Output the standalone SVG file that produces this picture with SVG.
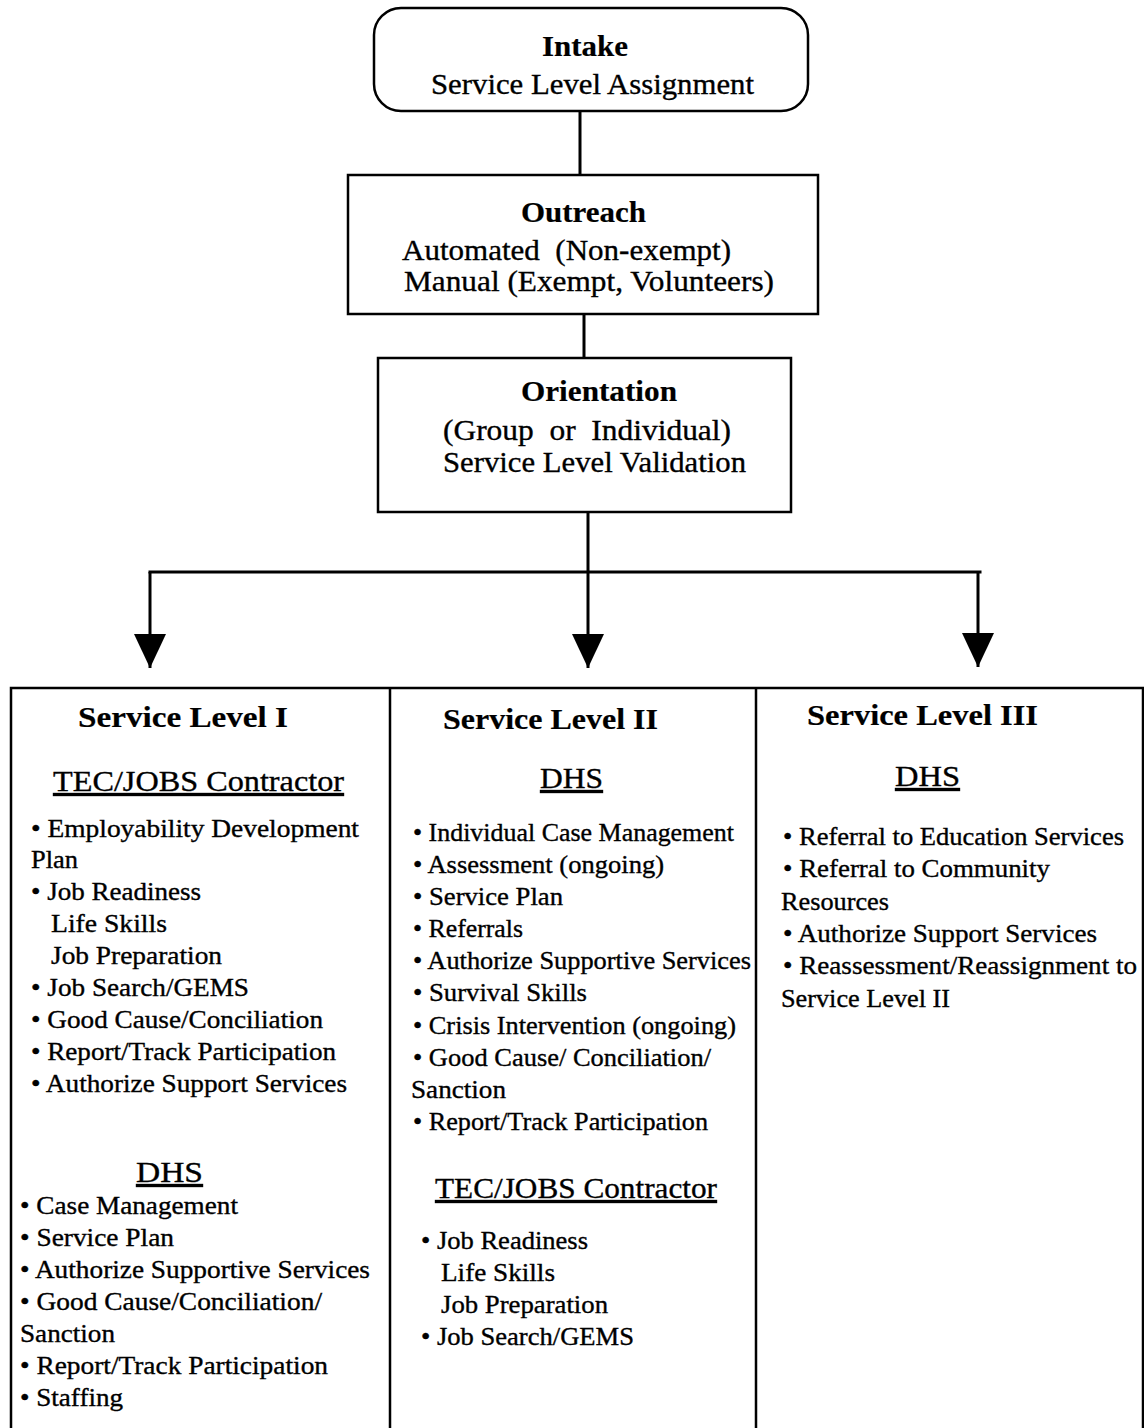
<svg xmlns="http://www.w3.org/2000/svg" width="1144" height="1428" viewBox="0 0 1144 1428">
<style>
text{font-family:"Liberation Serif","Times New Roman",serif;fill:#000;stroke:#000;stroke-width:0.35;white-space:pre}
.h{font-weight:bold;font-size:30px;stroke-width:0.2}
.t{font-size:30px}
.u{font-size:30px;text-decoration:underline}
.b{font-size:25px}
.box{fill:#fff;stroke:#000;stroke-width:2.5}
.con{fill:none;stroke:#000;stroke-width:3}
</style>
<defs>
<marker id="ah" markerUnits="userSpaceOnUse" markerWidth="36" markerHeight="34" refX="34" refY="16" orient="auto">
<path d="M0,0 L34,16 L0,32 z" fill="#000"/>
</marker>
</defs>
<rect width="1144" height="1428" fill="#fff"/>
<g id="connectors">
<path class="con" d="M580 112 V175"/>
<path class="con" d="M584 314 V358"/>
<path class="con" d="M150 572 H980" stroke-linecap="square"/>
<path class="con" d="M588 512 V668" marker-end="url(#ah)"/>
<path class="con" d="M150 572 V668" marker-end="url(#ah)"/>
<path class="con" d="M978 572 V667" marker-end="url(#ah)"/>
</g>
<g id="intake">
<rect class="box" x="374" y="8" width="434" height="103" rx="27"/>
<text class="h" x="542" y="56" textLength="86" lengthAdjust="spacingAndGlyphs">Intake</text>
<text class="t" x="431" y="94" textLength="323" lengthAdjust="spacingAndGlyphs">Service Level Assignment</text>
</g>
<g id="outreach">
<rect class="box" x="348" y="175" width="470" height="139"/>
<text class="h" x="521" y="222" textLength="125" lengthAdjust="spacingAndGlyphs">Outreach</text>
<text class="t" x="402" y="260" textLength="329" lengthAdjust="spacingAndGlyphs">Automated  (Non-exempt)</text>
<text class="t" x="404" y="291" textLength="370" lengthAdjust="spacingAndGlyphs">Manual (Exempt, Volunteers)</text>
</g>
<g id="orientation">
<rect class="box" x="378" y="358" width="413" height="154"/>
<text class="h" x="521" y="401" textLength="156" lengthAdjust="spacingAndGlyphs">Orientation</text>
<text class="t" x="443" y="440" textLength="288" lengthAdjust="spacingAndGlyphs">(Group  or  Individual)</text>
<text class="t" x="443" y="472" textLength="303" lengthAdjust="spacingAndGlyphs">Service Level Validation</text>
</g>
<g id="levels-frame">
<rect class="box" x="11" y="688" width="1132" height="800"/>
<path class="box" d="M390 688 V1440 M756 688 V1440" fill="none"/>
</g>
<g id="level1">
<text class="h" x="78" y="727" textLength="210" lengthAdjust="spacingAndGlyphs">Service Level I</text>
<text class="u" x="53" y="791" textLength="291" lengthAdjust="spacingAndGlyphs">TEC/JOBS Contractor</text>
<text class="b" x="31" y="837" textLength="328" lengthAdjust="spacingAndGlyphs">• Employability Development</text>
<text class="b" x="31" y="868" textLength="47" lengthAdjust="spacingAndGlyphs">Plan</text>
<text class="b" x="31" y="900" textLength="170" lengthAdjust="spacingAndGlyphs">• Job Readiness</text>
<text class="b" x="51" y="932" textLength="116" lengthAdjust="spacingAndGlyphs">Life Skills</text>
<text class="b" x="51" y="964" textLength="171" lengthAdjust="spacingAndGlyphs">Job Preparation</text>
<text class="b" x="31" y="996" textLength="218" lengthAdjust="spacingAndGlyphs">• Job Search/GEMS</text>
<text class="b" x="31" y="1028" textLength="292" lengthAdjust="spacingAndGlyphs">• Good Cause/Conciliation</text>
<text class="b" x="31" y="1060" textLength="305" lengthAdjust="spacingAndGlyphs">• Report/Track Participation</text>
<text class="b" x="31" y="1092" textLength="316" lengthAdjust="spacingAndGlyphs">• Authorize Support Services</text>
<text class="u" x="136" y="1182" textLength="67" lengthAdjust="spacingAndGlyphs">DHS</text>
<text class="b" x="20" y="1214" textLength="218" lengthAdjust="spacingAndGlyphs">• Case Management</text>
<text class="b" x="20" y="1246" textLength="154" lengthAdjust="spacingAndGlyphs">• Service Plan</text>
<text class="b" x="20" y="1278" textLength="350" lengthAdjust="spacingAndGlyphs">• Authorize Supportive Services</text>
<text class="b" x="20" y="1310" textLength="302" lengthAdjust="spacingAndGlyphs">• Good Cause/Conciliation/</text>
<text class="b" x="20" y="1342" textLength="95" lengthAdjust="spacingAndGlyphs">Sanction</text>
<text class="b" x="20" y="1374" textLength="308" lengthAdjust="spacingAndGlyphs">• Report/Track Participation</text>
<text class="b" x="20" y="1406" textLength="103" lengthAdjust="spacingAndGlyphs">• Staffing</text>
</g>
<g id="level2">
<text class="h" x="443" y="729" textLength="215" lengthAdjust="spacingAndGlyphs">Service Level II</text>
<text class="u" x="540" y="788" textLength="63" lengthAdjust="spacingAndGlyphs">DHS</text>
<text class="b" x="413" y="841" textLength="321" lengthAdjust="spacingAndGlyphs">• Individual Case Management</text>
<text class="b" x="413" y="873" textLength="251" lengthAdjust="spacingAndGlyphs">• Assessment (ongoing)</text>
<text class="b" x="413" y="905" textLength="150" lengthAdjust="spacingAndGlyphs">• Service Plan</text>
<text class="b" x="413" y="937" textLength="110" lengthAdjust="spacingAndGlyphs">• Referrals</text>
<text class="b" x="413" y="969" textLength="338" lengthAdjust="spacingAndGlyphs">• Authorize Supportive Services</text>
<text class="b" x="413" y="1001" textLength="174" lengthAdjust="spacingAndGlyphs">• Survival Skills</text>
<text class="b" x="413" y="1034" textLength="323" lengthAdjust="spacingAndGlyphs">• Crisis Intervention (ongoing)</text>
<text class="b" x="413" y="1066" textLength="298" lengthAdjust="spacingAndGlyphs">• Good Cause/ Conciliation/</text>
<text class="b" x="411" y="1098" textLength="95" lengthAdjust="spacingAndGlyphs">Sanction</text>
<text class="b" x="413" y="1130" textLength="295" lengthAdjust="spacingAndGlyphs">• Report/Track Participation</text>
<text class="u" x="435" y="1198" textLength="282" lengthAdjust="spacingAndGlyphs">TEC/JOBS Contractor</text>
<text class="b" x="421" y="1249" textLength="167" lengthAdjust="spacingAndGlyphs">• Job Readiness</text>
<text class="b" x="441" y="1281" textLength="114" lengthAdjust="spacingAndGlyphs">Life Skills</text>
<text class="b" x="441" y="1313" textLength="167" lengthAdjust="spacingAndGlyphs">Job Preparation</text>
<text class="b" x="421" y="1345" textLength="213" lengthAdjust="spacingAndGlyphs">• Job Search/GEMS</text>
</g>
<g id="level3">
<text class="h" x="807" y="725" textLength="231" lengthAdjust="spacingAndGlyphs">Service Level III</text>
<text class="u" x="895" y="786" textLength="65" lengthAdjust="spacingAndGlyphs">DHS</text>
<text class="b" x="783" y="845" textLength="341" lengthAdjust="spacingAndGlyphs">• Referral to Education Services</text>
<text class="b" x="783" y="877" textLength="267" lengthAdjust="spacingAndGlyphs">• Referral to Community</text>
<text class="b" x="781" y="910" textLength="108" lengthAdjust="spacingAndGlyphs">Resources</text>
<text class="b" x="783" y="942" textLength="314" lengthAdjust="spacingAndGlyphs">• Authorize Support Services</text>
<text class="b" x="783" y="974" textLength="354" lengthAdjust="spacingAndGlyphs">• Reassessment/Reassignment to</text>
<text class="b" x="781" y="1007" textLength="169" lengthAdjust="spacingAndGlyphs">Service Level II</text>
</g>
</svg>
